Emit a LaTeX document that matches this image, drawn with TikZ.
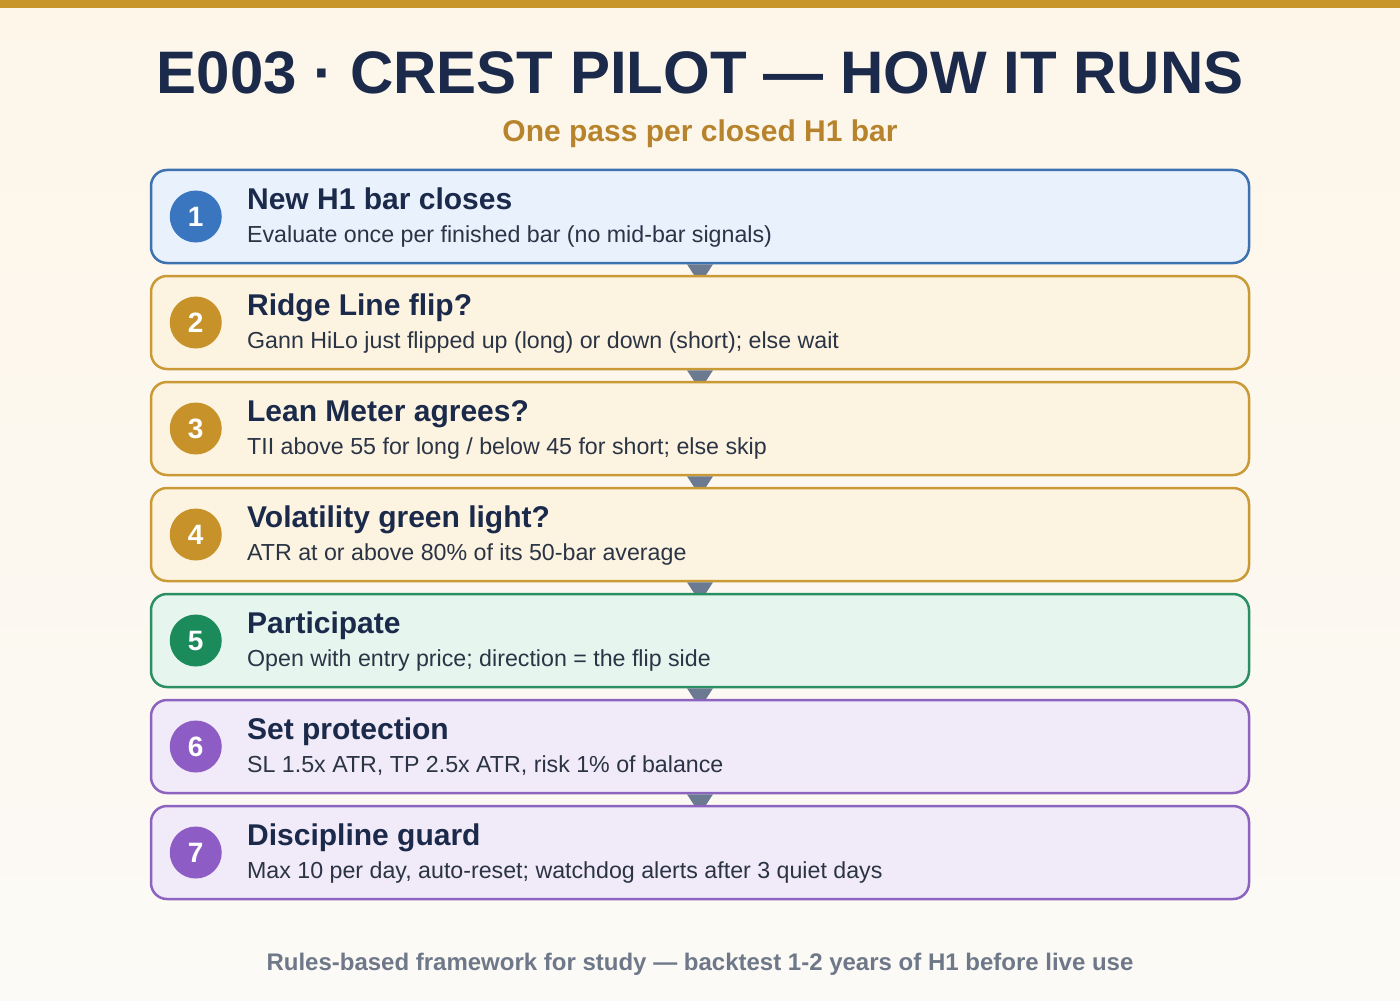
\documentclass[tikz,border=0pt]{standalone}
\usepackage{fontspec}
\setmainfont{Liberation Sans}
\usetikzlibrary{positioning}

\definecolor{bgtop}{HTML}{FDF6E9}
\definecolor{bgbot}{HTML}{FCFAF6}
\definecolor{barC}{HTML}{C8952A}
\definecolor{navyC}{HTML}{1B2A4A}
\definecolor{subC}{HTML}{B7832C}
\definecolor{noteC}{HTML}{2B3445}
\definecolor{footC}{HTML}{6E7889}
\definecolor{tipC}{HTML}{6B7A90}
\definecolor{blueF}{HTML}{E8F1FC}
\definecolor{blueD}{HTML}{3D71B0}
\definecolor{blueN}{HTML}{3A76BF}
\definecolor{goldF}{HTML}{FCF4E1}
\definecolor{goldD}{HTML}{C99A35}
\definecolor{goldN}{HTML}{C8922A}
\definecolor{greenF}{HTML}{E6F5EE}
\definecolor{greenD}{HTML}{2A8F62}
\definecolor{greenN}{HTML}{1C8B5C}
\definecolor{purpF}{HTML}{F1EAF8}
\definecolor{purpD}{HTML}{8C63BF}
\definecolor{purpN}{HTML}{8E5CC5}

\tikzset{x=0.5pt, y=-0.5pt,
         stepbox/.style={rectangle, rounded corners=8pt, line width=1.25pt,
                         minimum width=549pt, minimum height=46.5pt, inner sep=0pt},
         bluebox/.style={stepbox, fill=blueF, draw=blueD},
         goldbox/.style={stepbox, fill=goldF, draw=goldD},
         greenbox/.style={stepbox, fill=greenF, draw=greenD},
         purpbox/.style={stepbox, fill=purpF, draw=purpD},
         badge/.style={circle, minimum size=26pt, inner sep=0pt, text=white,
                       font=\bfseries\fontsize{14}{14}\selectfont},
         steptitle/.style={anchor=base west, inner sep=0pt, text=navyC,
                           font=\bfseries\fontsize{15}{18}\selectfont},
         stepnote/.style={anchor=base west, inner sep=0pt, text=noteC,
                          font=\fontsize{11.6}{14}\selectfont},
         flowtip/.style={fill=tipC},
         }

\begin{document}
\begin{tikzpicture}
    \useasboundingbox (0,0) rectangle (1400,1000);
    \shade[top color=bgtop, bottom color=bgbot] (0,0) rectangle (1400,1000);
    \fill[barC] (0,0) rectangle (1400,8);

    \node[anchor=base, inner sep=0pt, text=navyC, font=\bfseries\fontsize{30}{36}\selectfont]
        (title) at (700,94) {E003 · CREST PILOT — HOW IT RUNS};
    \node[anchor=base, inner sep=0pt, text=subC, font=\bfseries\fontsize{15}{18}\selectfont]
        (subtitle) at (700,142) {One pass per closed H1 bar};

    % step 1
    \node[bluebox] (s1) at (700,216.5) {};
    \node[badge, fill=blueN] (n1) at ([xshift=23pt]s1.west) {1};
    \node[steptitle] (t1) at ([xshift=48.5pt,yshift=-20.5pt]s1.north west) {New H1 bar closes};
    \node[stepnote] (d1) at ([xshift=48.5pt,yshift=-37pt]s1.north west) {Evaluate once per finished bar (no mid-bar signals)};
    \fill[flowtip] ([xshift=-6.5pt]s1.south) -- ([xshift=6.5pt]s1.south) -- ([yshift=-10pt]s1.south) -- cycle;

    % step 2
    \node[goldbox, below=5.25pt of s1] (s2) {};
    \node[badge, fill=goldN] (n2) at ([xshift=23pt]s2.west) {2};
    \node[steptitle] (t2) at ([xshift=48.5pt,yshift=-20.5pt]s2.north west) {Ridge Line flip?};
    \node[stepnote] (d2) at ([xshift=48.5pt,yshift=-37pt]s2.north west) {Gann HiLo just flipped up (long) or down (short); else wait};
    \fill[flowtip] ([xshift=-6.5pt]s2.south) -- ([xshift=6.5pt]s2.south) -- ([yshift=-10pt]s2.south) -- cycle;

    % step 3
    \node[goldbox, below=5.25pt of s2] (s3) {};
    \node[badge, fill=goldN] (n3) at ([xshift=23pt]s3.west) {3};
    \node[steptitle] (t3) at ([xshift=48.5pt,yshift=-20.5pt]s3.north west) {Lean Meter agrees?};
    \node[stepnote] (d3) at ([xshift=48.5pt,yshift=-37pt]s3.north west) {TII above 55 for long / below 45 for short; else skip};
    \fill[flowtip] ([xshift=-6.5pt]s3.south) -- ([xshift=6.5pt]s3.south) -- ([yshift=-10pt]s3.south) -- cycle;

    % step 4
    \node[goldbox, below=5.25pt of s3] (s4) {};
    \node[badge, fill=goldN] (n4) at ([xshift=23pt]s4.west) {4};
    \node[steptitle] (t4) at ([xshift=48.5pt,yshift=-20.5pt]s4.north west) {Volatility green light?};
    \node[stepnote] (d4) at ([xshift=48.5pt,yshift=-37pt]s4.north west) {ATR at or above 80\% of its 50-bar average};
    \fill[flowtip] ([xshift=-6.5pt]s4.south) -- ([xshift=6.5pt]s4.south) -- ([yshift=-10pt]s4.south) -- cycle;

    % step 5
    \node[greenbox, below=5.25pt of s4] (s5) {};
    \node[badge, fill=greenN] (n5) at ([xshift=23pt]s5.west) {5};
    \node[steptitle] (t5) at ([xshift=48.5pt,yshift=-20.5pt]s5.north west) {Participate};
    \node[stepnote] (d5) at ([xshift=48.5pt,yshift=-37pt]s5.north west) {Open with entry price; direction = the flip side};
    \fill[flowtip] ([xshift=-6.5pt]s5.south) -- ([xshift=6.5pt]s5.south) -- ([yshift=-10pt]s5.south) -- cycle;

    % step 6
    \node[purpbox, below=5.25pt of s5] (s6) {};
    \node[badge, fill=purpN] (n6) at ([xshift=23pt]s6.west) {6};
    \node[steptitle] (t6) at ([xshift=48.5pt,yshift=-20.5pt]s6.north west) {Set protection};
    \node[stepnote] (d6) at ([xshift=48.5pt,yshift=-37pt]s6.north west) {SL 1.5x ATR, TP 2.5x ATR, risk 1\% of balance};
    \fill[flowtip] ([xshift=-6.5pt]s6.south) -- ([xshift=6.5pt]s6.south) -- ([yshift=-10pt]s6.south) -- cycle;

    % step 7
    \node[purpbox, below=5.25pt of s6] (s7) {};
    \node[badge, fill=purpN] (n7) at ([xshift=23pt]s7.west) {7};
    \node[steptitle] (t7) at ([xshift=48.5pt,yshift=-20.5pt]s7.north west) {Discipline guard};
    \node[stepnote] (d7) at ([xshift=48.5pt,yshift=-37pt]s7.north west) {Max 10 per day, auto-reset; watchdog alerts after 3 quiet days};

    \node[anchor=base, inner sep=0pt, text=footC, font=\bfseries\fontsize{12}{14}\selectfont]
        (footer) at (700,970) {Rules-based framework for study — backtest 1-2 years of H1 before live use};
\end{tikzpicture}
\end{document}
